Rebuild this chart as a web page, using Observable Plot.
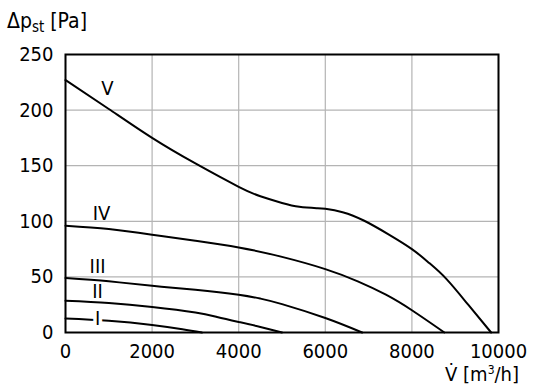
<!DOCTYPE html>
<html>
<head>
<meta charset="utf-8">
<script src="https://cdn.jsdelivr.net/npm/d3@7"></script>
<script src="https://cdn.jsdelivr.net/npm/@observablehq/plot@0.6"></script>
<style>
  html, body { margin: 0; padding: 0; background: #fff; }
  #chart { width: 536px; height: 388px; }
  svg text { font-family: "Liberation Sans Narrow", "DejaVu Sans Condensed", "Liberation Sans", sans-serif; }
</style>
</head>
<body>
<div id="chart"></div>
<script>
// Fan curves: volume flow [m³/h] vs static pressure [Pa]
const curveV_x  = [0, 1000, 2000, 3000, 4000, 4500, 5000, 5400, 5800, 6000, 6400, 6900, 7450, 8000, 8400, 8800, 9300, 9830];
const curveV_y  = [227, 201, 175, 152, 131, 122.5, 116.5, 113, 111.8, 111.2, 108.2, 100.5, 88.5, 75, 62.5, 48, 25, 0];
const curveIV_x = [0, 1000, 2000, 3000, 4000, 5000, 6000, 6750, 7400, 8000, 8750];
const curveIV_y = [96, 93, 88, 82.5, 76.5, 68, 57, 46, 34, 20, 0];
const curveIII_x = [0, 1000, 2000, 3000, 4000, 4500, 5000, 6000, 6850];
const curveIII_y = [49, 46, 42, 38.5, 34, 30.5, 25.5, 13, 0];
const curveII_x = [0, 1000, 2000, 3000, 3500, 4000, 4500, 5000];
const curveII_y = [28.5, 26.5, 23, 18, 14, 9.5, 5, 0];
const curveI_x  = [0, 1000, 2000, 2700, 3150];
const curveI_y  = [12.5, 10.5, 6.8, 3, 0];

const curveNames = ["V", "IV", "III", "II", "I"];
const labelX = [970, 830, 740, 740, 740];
const labelY = [219, 107, 59, 36.5, 12.2];

const xTicks = [0, 2000, 4000, 6000, 8000, 10000];
const yTicks = [0, 50, 100, 150, 200, 250];

const series = [
  [curveV_x, curveV_y], [curveIV_x, curveIV_y], [curveIII_x, curveIII_y],
  [curveII_x, curveII_y], [curveI_x, curveI_y]
];
const rows = series.flatMap(([xs, ys], i) => xs.map((x, j) => ({name: curveNames[i], x, y: ys[j]})));
const labels = curveNames.map((n, i) => ({name: n, x: labelX[i], y: labelY[i]}));

const font = '"Liberation Sans Narrow", "DejaVu Sans Condensed", "Liberation Sans", sans-serif';

const plot = Plot.plot({
  width: 536,
  height: 388,
  marginLeft: 65,
  marginRight: 38,
  marginTop: 54,
  marginBottom: 56,
  style: {fontFamily: font, fontSize: "20px", background: "white", color: "black"},
  x: {domain: [0, 10000], ticks: xTicks, tickSize: 0, tickPadding: 11, label: null, tickFormat: d => String(d)},
  y: {domain: [0, 250], ticks: yTicks, tickSize: 0, tickPadding: 12, label: null},
  marks: [
    Plot.gridX(xTicks, {stroke: "#b4b4b4", strokeOpacity: 1, strokeWidth: 1.2}),
    Plot.gridY(yTicks, {stroke: "#b4b4b4", strokeOpacity: 1, strokeWidth: 1.2}),
    Plot.line(rows, {x: "x", y: "y", z: "name", stroke: "black", strokeWidth: 2, curve: "natural"}),
    Plot.text(labels.filter(d => d.name !== "I"), {x: "x", y: "y", text: "name", fontSize: 20, fill: "black"}),
    Plot.text(labels.filter(d => d.name === "I"), {x: "x", y: "y", text: "name", fontSize: 20, fill: "black", stroke: "white", strokeWidth: 7}),
    Plot.frame({stroke: "black", strokeWidth: 2}),
    Plot.axisX({ticks: xTicks, tickSize: 0, tickPadding: 11, fontSize: 20, label: null, tickFormat: d => String(d)}),
    Plot.axisY({ticks: yTicks, tickSize: 0, tickPadding: 12, fontSize: 20, label: null})
  ]
});

document.getElementById("chart").appendChild(plot);

const svg = d3.select(plot);
// Y axis title: Δp_st [Pa]
const yt = svg.append("text")
  .attr("x", 7).attr("y", 28)
  .attr("text-anchor", "start")
  .attr("font-size", 21).attr("fill", "black")
  .attr("font-family", font);
yt.append("tspan").text("Δp");
yt.append("tspan").attr("font-size", 15).attr("dy", 4).text("st");
yt.append("tspan").attr("dy", -4).text(" [Pa]");

// X axis title: V̇ [m³/h]
const xt = svg.append("text")
  .attr("x", 519).attr("y", 381)
  .attr("text-anchor", "end")
  .attr("font-size", 20).attr("fill", "black")
  .attr("font-family", font);
xt.append("tspan").text("V\u0307 [m");
xt.append("tspan").attr("font-size", 12).attr("dy", -7).text("3");
xt.append("tspan").attr("dy", 7).text("/h]");
</script>
</body>
</html>
